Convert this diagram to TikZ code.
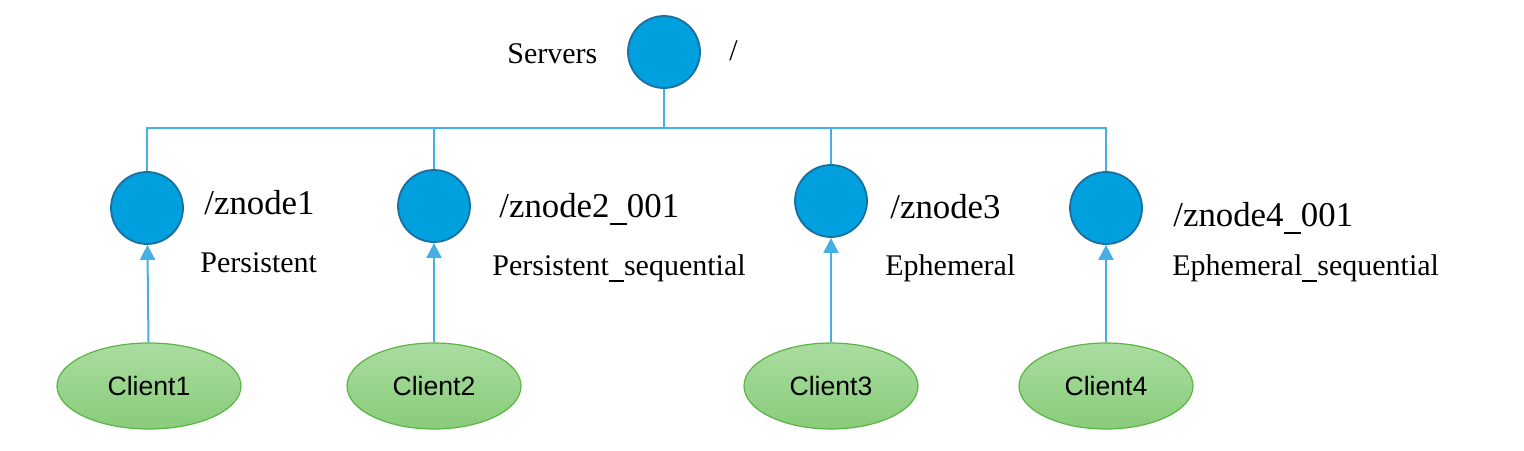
\documentclass[tikz,border=0pt]{standalone}
\usepackage{fontspec}
\setmainfont{Liberation Serif}
\newfontfamily\clientfont{Liberation Sans}
\usetikzlibrary{arrows.meta,positioning,shapes.geometric}

\definecolor{zfill}{RGB}{0,160,222}
\definecolor{zline}{RGB}{27,111,160}
\definecolor{wire}{RGB}{70,175,228}
\definecolor{ctop}{RGB}{170,221,160}
\definecolor{cbot}{RGB}{136,204,122}
\definecolor{cline}{RGB}{90,180,70}

\newcommand{\usc}{\rule[-0.22em]{0.5em}{0.05em}}

\begin{document}
\begin{tikzpicture}[x=0.5pt,y=-0.5pt,>={Triangle[width=7.5pt,length=7.5pt]},
                    zk node/.style={circle,draw=zline,fill=zfill,line width=0.9pt,
                                    minimum size=36pt,inner sep=0pt},
                    client/.style={ellipse,draw=cline,line width=0.6pt,top color=ctop,
                                   bottom color=cbot,minimum width=87pt,minimum height=43pt,
                                   inner sep=0pt,font=\clientfont\fontsize{13.3}{15}\selectfont},
                    path label/.style={anchor=base west,inner sep=0pt,font=\fontsize{17.4}{20}\selectfont},
                    type label/.style={anchor=base west,inner sep=0pt,font=\fontsize{15}{18}\selectfont}]
  \useasboundingbox (0,0) rectangle (1524,450);

  % znodes
  \node[zk node] (root) at (664,52) {};
  \node[zk node] (z1) at (147,208) {};
  \node[zk node] (z2) at (434,206) {};
  \node[zk node] (z3) at (831,201) {};
  \node[zk node] (z4) at (1106,208) {};

  % clients
  \node[client,minimum width=92pt] (c1) at (149,386) {Client1};
  \node[client] (c2) at (434,386) {Client2};
  \node[client] (c3) at (831,386) {Client3};
  \node[client] (c4) at (1106,386) {Client4};

  % labels
  \node[type label] (servers) at (507,63) {Servers};
  \node[type label] (slash) at (729,60) {/};
  \node[path label] (p1) at (204,214) {/znode1};
  \node[type label] (t1) at (200,272) {Persistent};
  \node[path label] (p2) at (499,217) {/znode2\usc 001};
  \node[type label] (t2) at (492,275) {Persistent\usc sequential};
  \node[path label] (p3) at (890,218) {/znode3};
  \node[type label] (t3) at (885,275) {Ephemeral};
  \node[path label] (p4) at (1173,226) {/znode4\usc 001};
  \node[type label] (t4) at (1172,275) {Ephemeral\usc sequential};

  % tree
  \coordinate (bus) at (664,128);
  \draw[wire,line width=1pt] (root.south) -- (bus)
    (z1.north) |- (bus) (z2.north) |- (bus)
    (z3.north) |- (bus) (z4.north) |- (bus);

  \path[wire,line width=1pt,->]
    (c1) edge (z1)
    (c2) edge (z2)
    (c3) edge (z3)
    (c4) edge (z4);
\end{tikzpicture}
\end{document}
